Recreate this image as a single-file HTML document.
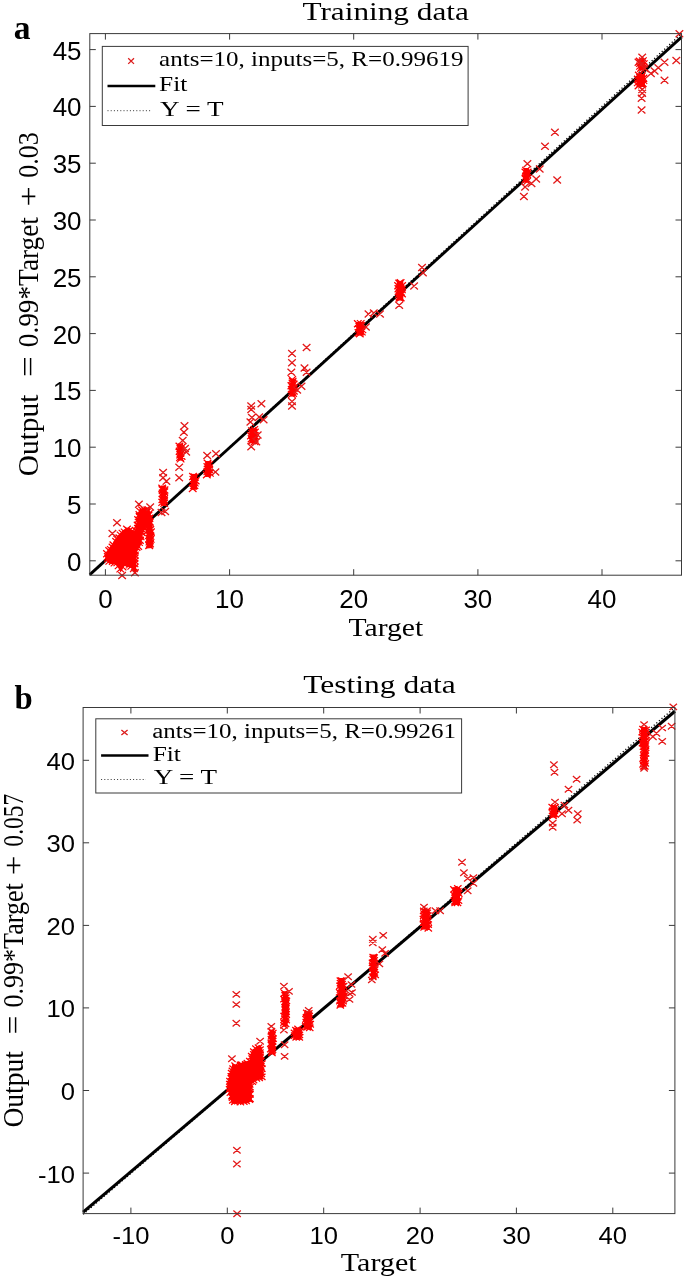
<!DOCTYPE html>
<html><head><meta charset="utf-8"><title>Regression plots</title>
<style>html,body{margin:0;padding:0;background:#fff;}svg{display:block;}</style></head>
<body>
<svg width="685" height="1278" viewBox="0 0 685 1278">
<rect width="685" height="1278" fill="#fff"/>
<line x1="89.8" y1="575.1" x2="681.5" y2="33.7" stroke="#000" stroke-width="1.3" stroke-dasharray="1.2 2.2"/>
<line x1="89.8" y1="574.6" x2="681.5" y2="37.1" stroke="#000" stroke-width="2.9"/>
<polygon points="105.2,556.4 106.0,560.5 109.2,563.7 115.7,564.6 115.9,564.7 116.1,564.7 116.2,564.8 116.4,564.9 116.6,565.0 116.7,565.1 116.9,565.2 117.0,565.4 117.1,565.5 117.2,565.7 120.6,572.6 124.0,566.7 124.1,566.5 124.2,566.4 124.3,566.2 124.5,566.1 124.7,566.0 124.8,565.9 125.0,565.8 125.2,565.8 125.4,565.7 125.6,565.7 125.8,565.7 126.0,565.7 126.2,565.8 126.4,565.8 126.6,565.9 130.6,567.9 130.8,568.0 130.9,568.1 131.1,568.3 131.2,568.4 131.4,568.6 134.7,573.5 135.9,573.2 136.4,556.3 136.4,556.1 137.5,549.7 137.6,549.5 137.6,549.3 137.7,549.1 137.8,548.9 138.0,548.7 138.1,548.6 140.5,546.2 142.5,532.7 142.6,532.5 142.6,532.3 142.7,532.2 142.8,532.0 142.9,531.9 146.1,527.2 147.5,519.9 147.0,509.1 144.7,507.5 139.5,509.0 137.8,514.0 135.3,529.1 135.2,529.3 135.2,529.5 135.1,529.7 135.0,529.9 134.9,530.0 134.8,530.2 134.6,530.3 134.5,530.4 134.3,530.5 134.1,530.6 133.9,530.7 133.7,530.7 133.6,530.8 133.4,530.8 133.2,530.8 133.0,530.8 132.8,530.7 132.6,530.7 132.4,530.6 132.2,530.5 132.1,530.4 131.9,530.3 131.8,530.1 131.7,530.0 129.8,527.4 126.4,527.7 122.9,530.3 117.0,536.3 112.0,544.2 111.9,544.3 106.1,552.1 105.2,556.4" fill="#f00"/>
<polygon points="145.6,507.3 145.6,519.9 146.8,532.8 146.8,533.0 146.6,548.4 152.4,548.1 152.6,536.1 151.6,520.9 149.4,508.7 146.4,507.0 145.6,507.3" fill="#f00"/>
<polygon points="160.8,485.6 160.8,506.1 166.4,506.1 165.6,485.6 160.8,485.6" fill="#f00"/>
<polygon points="177.7,443.5 177.7,460.6 183.0,460.6 183.0,443.5 177.7,443.5" fill="#f00"/>
<polygon points="191.1,473.9 191.1,489.8 197.0,489.8 197.0,473.9 191.1,473.9" fill="#f00"/>
<polygon points="205.1,461.0 205.1,476.9 211.1,476.9 211.1,461.0 205.1,461.0" fill="#f00"/>
<polygon points="249.5,428.4 249.5,443.3 257.2,443.3 257.2,428.4 249.5,428.4" fill="#f00"/>
<polygon points="290.4,378.7 290.4,396.6 295.2,396.6 295.2,378.7 290.4,378.7" fill="#f00"/>
<polygon points="356.5,322.0 356.5,335.6 363.9,335.6 363.9,322.0 356.5,322.0" fill="#f00"/>
<polygon points="396.8,280.9 396.8,300.6 403.3,300.6 403.3,280.9 396.8,280.9" fill="#f00"/>
<polygon points="523.6,168.0 523.6,182.7 529.0,182.7 529.0,168.0 523.6,168.0" fill="#f00"/>
<polygon points="636.5,74.0 636.5,87.0 645.0,87.0 645.0,74.0 636.5,74.0" fill="#f00"/>
<polygon points="638.5,58.5 638.5,70.6 645.4,69.4 644.6,58.5 638.5,58.5" fill="#f00"/>
<path d="M104.0 553.3L111.6 560.3M104.0 560.3L111.6 553.3M104.2 555.4L111.8 562.4M104.2 562.4L111.8 555.4M105.5 557.6L113.1 564.6M105.5 564.6L113.1 557.6M108.9 557.9L116.5 564.9M108.9 564.9L116.5 557.9M110.7 559.4L118.3 566.4M110.7 566.4L118.3 559.4M113.5 559.1L121.1 566.1M113.5 566.1L121.1 559.1M114.8 562.1L122.4 569.1M114.8 569.1L122.4 562.1M116.5 565.4L124.1 572.4M116.5 572.4L124.1 565.4M118.8 563.4L126.4 570.4M118.8 570.4L126.4 563.4M119.7 560.0L127.3 567.0M119.7 567.0L127.3 560.0M122.2 560.3L129.8 567.3M122.2 567.3L129.8 560.3M125.7 561.4L133.3 568.4M125.7 568.4L133.3 561.4M127.5 562.6L135.1 569.6M127.5 569.6L135.1 562.6M130.0 565.1L137.6 572.1M130.0 572.1L137.6 565.1M130.7 564.1L138.3 571.1M130.7 571.1L138.3 564.1M130.7 560.1L138.3 567.1M130.7 567.1L138.3 560.1M131.0 557.5L138.6 564.5M131.0 564.5L138.6 557.5M130.6 554.8L138.2 561.8M130.6 561.8L138.2 554.8M131.0 551.7L138.6 558.7M131.0 558.7L138.6 551.7M130.7 549.0L138.3 556.0M130.7 556.0L138.3 549.0M131.1 547.2L138.7 554.2M131.1 554.2L138.7 547.2M132.7 543.7L140.3 550.7M132.7 550.7L140.3 543.7M134.4 542.8L142.0 549.8M134.4 549.8L142.0 542.8M135.2 538.9L142.8 545.9M135.2 545.9L142.8 538.9M136.1 536.8L143.7 543.8M136.1 543.8L143.7 536.8M136.8 533.1L144.4 540.1M136.8 540.1L144.4 533.1M136.4 531.4L144.0 538.4M136.4 538.4L144.0 531.4M137.5 528.8L145.1 535.8M137.5 535.8L145.1 528.8M137.7 525.4L145.3 532.4M137.7 532.4L145.3 525.4M139.4 522.9L147.0 529.9M139.4 529.9L147.0 522.9M141.6 520.9L149.2 527.9M141.6 527.9L149.2 520.9M142.0 517.8L149.6 524.8M142.0 524.8L149.6 517.8M142.2 515.1L149.8 522.1M142.2 522.1L149.8 515.1M141.1 512.8L148.7 519.8M141.1 519.8L148.7 512.8M142.1 508.9L149.7 515.9M142.1 515.9L149.7 508.9M141.4 506.9L149.0 513.9M141.4 513.9L149.0 506.9M138.3 506.5L145.9 513.5M138.3 513.5L145.9 506.5M136.3 507.9L143.9 514.9M136.3 514.9L143.9 507.9M135.6 511.2L143.2 518.2M135.6 518.2L143.2 511.2M135.8 513.3L143.4 520.3M135.8 520.3L143.4 513.3M134.3 516.3L141.9 523.3M134.3 523.3L141.9 516.3M134.8 518.9L142.4 525.9M134.8 525.9L142.4 518.9M133.8 521.7L141.4 528.7M133.8 528.7L141.4 521.7M134.1 525.0L141.7 532.0M134.1 532.0L141.7 525.0M132.0 527.0L139.6 534.0M132.0 534.0L139.6 527.0M130.3 529.3L137.9 536.3M130.3 536.3L137.9 529.3M127.9 528.2L135.5 535.2M127.9 535.2L135.5 528.2M125.2 527.2L132.8 534.2M125.2 534.2L132.8 527.2M123.2 525.8L130.8 532.8M123.2 532.8L130.8 525.8M120.8 528.6L128.4 535.6M120.8 535.6L128.4 528.6M118.7 529.9L126.3 536.9M118.7 536.9L126.3 529.9M116.8 531.6L124.4 538.6M116.8 538.6L124.4 531.6M115.6 534.5L123.2 541.5M115.6 541.5L123.2 534.5M113.2 535.6L120.8 542.6M113.2 542.6L120.8 535.6M112.3 538.0L119.9 545.0M112.3 545.0L119.9 538.0M109.6 541.5L117.2 548.5M109.6 548.5L117.2 541.5M108.7 543.7L116.3 550.7M108.7 550.7L116.3 543.7M107.0 546.1L114.6 553.1M107.0 553.1L114.6 546.1M105.4 547.2L113.0 554.2M105.4 554.2L113.0 547.2M103.2 550.2L110.8 557.2M103.2 557.2L110.8 550.2M143.6 506.5L151.2 513.5M143.6 513.5L151.2 506.5M143.2 508.6L150.8 515.6M143.2 515.6L150.8 508.6M144.6 512.0L152.2 519.0M144.6 519.0L152.2 512.0M143.2 515.3L150.8 522.3M143.2 522.3L150.8 515.3M144.4 517.4L152.0 524.4M144.4 524.4L152.0 517.4M144.4 520.6L152.0 527.6M144.4 527.6L152.0 520.6M144.5 522.9L152.1 529.9M144.5 529.9L152.1 522.9M144.0 527.3L151.6 534.3M144.0 534.3L151.6 527.3M145.6 529.4L153.2 536.4M145.6 536.4L153.2 529.4M145.1 531.9L152.7 538.9M145.1 538.9L152.7 531.9M145.4 535.0L153.0 542.0M145.4 542.0L153.0 535.0M145.6 538.4L153.2 545.4M145.6 545.4L153.2 538.4M145.4 541.6L153.0 548.6M145.4 548.6L153.0 541.6M145.4 542.0L153.0 549.0M145.4 549.0L153.0 542.0M146.2 540.2L153.8 547.2M146.2 547.2L153.8 540.2M146.1 537.1L153.7 544.1M146.1 544.1L153.7 537.1M146.9 535.6L154.5 542.6M146.9 542.6L154.5 535.6M146.7 532.8L154.3 539.8M146.7 539.8L154.3 532.8M147.2 528.5L154.8 535.5M147.2 535.5L154.8 528.5M146.5 526.2L154.1 533.2M146.5 533.2L154.1 526.2M145.6 524.2L153.2 531.2M145.6 531.2L153.2 524.2M145.6 520.7L153.2 527.7M145.6 527.7L153.2 520.7M146.1 518.5L153.7 525.5M146.1 525.5L153.7 518.5M145.6 514.8L153.2 521.8M145.6 521.8L153.2 514.8M144.7 511.6L152.3 518.6M144.7 518.6L152.3 511.6M145.1 510.1L152.7 517.1M145.1 517.1L152.7 510.1M158.4 484.7L166.0 491.7M158.4 491.7L166.0 484.7M158.6 486.4L166.2 493.4M158.6 493.4L166.2 486.4M159.0 489.6L166.6 496.6M159.0 496.6L166.6 489.6M159.0 493.0L166.6 500.0M159.0 500.0L166.6 493.0M158.6 496.0L166.2 503.0M158.6 503.0L166.2 496.0M158.4 498.9L166.0 505.9M158.4 505.9L166.0 498.9M160.4 499.9L168.0 506.9M160.4 506.9L168.0 499.9M160.3 497.3L167.9 504.3M160.3 504.3L167.9 497.3M160.2 495.6L167.8 502.6M160.2 502.6L167.8 495.6M160.3 492.4L167.9 499.4M160.3 499.4L167.9 492.4M160.5 488.5L168.1 495.5M160.5 495.5L168.1 488.5M160.7 486.5L168.3 493.5M160.7 493.5L168.3 486.5M175.6 442.7L183.2 449.7M175.6 449.7L183.2 442.7M176.6 445.3L184.2 452.3M176.6 452.3L184.2 445.3M175.8 447.8L183.4 454.8M175.8 454.8L183.4 447.8M176.3 451.4L183.9 458.4M176.3 458.4L183.9 451.4M176.2 453.9L183.8 460.9M176.2 460.9L183.8 453.9M176.8 455.4L184.4 462.4M176.8 462.4L184.4 455.4M177.8 452.7L185.4 459.7M177.8 459.7L185.4 452.7M176.6 449.6L184.2 456.6M176.6 456.6L184.2 449.6M177.0 445.8L184.6 452.8M177.0 452.8L184.6 445.8M178.0 443.7L185.6 450.7M178.0 450.7L185.6 443.7M189.2 473.0L196.8 480.0M189.2 480.0L196.8 473.0M189.6 476.0L197.2 483.0M189.6 483.0L197.2 476.0M190.0 478.2L197.6 485.2M190.0 485.2L197.6 478.2M190.0 481.5L197.6 488.5M190.0 488.5L197.6 481.5M188.9 485.0L196.5 492.0M188.9 492.0L196.5 485.0M190.6 482.0L198.2 489.0M190.6 489.0L198.2 482.0M190.9 479.4L198.5 486.4M190.9 486.4L198.5 479.4M191.9 477.2L199.5 484.2M191.9 484.2L199.5 477.2M191.1 473.6L198.7 480.6M191.1 480.6L198.7 473.6M203.8 459.8L211.4 466.8M203.8 466.8L211.4 459.8M203.6 463.3L211.2 470.3M203.6 470.3L211.2 463.3M204.1 466.0L211.7 473.0M204.1 473.0L211.7 466.0M203.6 468.0L211.2 475.0M203.6 475.0L211.2 468.0M203.0 471.3L210.6 478.3M203.0 478.3L210.6 471.3M206.1 469.6L213.7 476.6M206.1 476.6L213.7 469.6M205.4 466.0L213.0 473.0M205.4 473.0L213.0 466.0M205.2 464.3L212.8 471.3M205.2 471.3L212.8 464.3M205.4 461.1L213.0 468.1M205.4 468.1L213.0 461.1M248.2 427.4L255.8 434.4M248.2 434.4L255.8 427.4M248.3 430.1L255.9 437.1M248.3 437.1L255.9 430.1M247.2 432.2L254.8 439.2M247.2 439.2L254.8 432.2M247.8 435.2L255.4 442.2M247.8 442.2L255.4 435.2M248.2 437.2L255.8 444.2M248.2 444.2L255.8 437.2M250.8 438.1L258.4 445.1M250.8 445.1L258.4 438.1M251.0 435.4L258.6 442.4M251.0 442.4L258.6 435.4M251.1 432.5L258.7 439.5M251.1 439.5L258.7 432.5M251.1 428.7L258.7 435.7M251.1 435.7L258.7 428.7M250.5 426.1L258.1 433.1M250.5 433.1L258.1 426.1M288.4 376.1L296.0 383.1M288.4 383.1L296.0 376.1M288.7 379.7L296.3 386.7M288.7 386.7L296.3 379.7M287.6 382.3L295.2 389.3M287.6 389.3L295.2 382.3M287.9 386.1L295.5 393.1M287.9 393.1L295.5 386.1M288.4 388.1L296.0 395.1M288.4 395.1L296.0 388.1M287.9 390.9L295.5 397.9M287.9 397.9L295.5 390.9M289.3 389.7L296.9 396.7M289.3 396.7L296.9 389.7M290.1 387.5L297.7 394.5M290.1 394.5L297.7 387.5M290.0 384.8L297.6 391.8M290.0 391.8L297.6 384.8M289.9 380.7L297.5 387.7M289.9 387.7L297.5 380.7M288.9 377.9L296.5 384.9M288.9 384.9L296.5 377.9M354.0 320.3L361.6 327.3M354.0 327.3L361.6 320.3M355.5 323.2L363.1 330.2M355.5 330.2L363.1 323.2M355.0 325.5L362.6 332.5M355.0 332.5L362.6 325.5M354.7 329.2L362.3 336.2M354.7 336.2L362.3 329.2M356.0 330.2L363.6 337.2M356.0 337.2L363.6 330.2M358.0 328.4L365.6 335.4M358.0 335.4L365.6 328.4M358.6 326.1L366.2 333.1M358.6 333.1L366.2 326.1M357.5 322.2L365.1 329.2M357.5 329.2L365.1 322.2M356.9 320.1L364.5 327.1M356.9 327.1L364.5 320.1M395.4 279.7L403.0 286.7M395.4 286.7L403.0 279.7M394.3 282.2L401.9 289.2M394.3 289.2L401.9 282.2M394.6 285.2L402.2 292.2M394.6 292.2L402.2 285.2M394.8 287.7L402.4 294.7M394.8 294.7L402.4 287.7M395.1 290.7L402.7 297.7M395.1 297.7L402.7 290.7M395.6 293.1L403.2 300.1M395.6 300.1L403.2 293.1M395.7 294.6L403.3 301.6M395.7 301.6L403.3 294.6M396.9 294.3L404.5 301.3M396.9 301.3L404.5 294.3M398.2 290.3L405.8 297.3M398.2 297.3L405.8 290.3M397.3 288.7L404.9 295.7M397.3 295.7L404.9 288.7M398.1 286.1L405.7 293.1M398.1 293.1L405.7 286.1M398.3 282.2L405.9 289.2M398.3 289.2L405.9 282.2M396.8 279.3L404.4 286.3M396.8 286.3L404.4 279.3M522.2 166.9L529.8 173.9M522.2 173.9L529.8 166.9M521.6 168.8L529.2 175.8M521.6 175.8L529.2 168.8M522.3 172.6L529.9 179.6M522.3 179.6L529.9 172.6M521.9 175.9L529.5 182.9M521.9 182.9L529.5 175.9M523.3 177.9L530.9 184.9M523.3 184.9L530.9 177.9M522.4 174.9L530.0 181.9M522.4 181.9L530.0 174.9M523.4 171.0L531.0 178.0M523.4 178.0L531.0 171.0M523.9 168.7L531.5 175.7M523.9 175.7L531.5 168.7M635.0 71.8L642.6 78.8M635.0 78.8L642.6 71.8M634.1 75.8L641.7 82.8M634.1 82.8L641.7 75.8M634.0 79.1L641.6 86.1M634.0 86.1L641.6 79.1M634.7 82.2L642.3 89.2M634.7 89.2L642.3 82.2M638.3 81.4L645.9 88.4M638.3 88.4L645.9 81.4M638.9 79.9L646.5 86.9M638.9 86.9L646.5 79.9M639.6 76.9L647.2 83.9M639.6 83.9L647.2 76.9M639.6 74.8L647.2 81.8M639.6 81.8L647.2 74.8M638.1 72.5L645.7 79.5M638.1 79.5L645.7 72.5M635.9 57.7L643.5 64.7M635.9 64.7L643.5 57.7M636.2 59.9L643.8 66.9M636.2 66.9L643.8 59.9M636.2 62.6L643.8 69.6M636.2 69.6L643.8 62.6M637.2 64.8L644.8 71.8M637.2 71.8L644.8 64.8M639.8 63.8L647.4 70.8M639.8 70.8L647.4 63.8M640.0 60.4L647.6 67.4M640.0 67.4L647.6 60.4M639.1 57.4L646.7 64.4M639.1 64.4L646.7 57.4" stroke="#f00" stroke-width="1.25" fill="none"/>
<path d="M113.2 519.2L120.8 526.2M113.2 526.2L120.8 519.2M108.6 529.9L116.2 536.9M108.6 536.9L116.2 529.9M135.1 500.8L142.7 507.8M135.1 507.8L142.7 500.8M146.4 503.5L154.0 510.5M146.4 510.5L154.0 503.5M118.3 572.1L125.9 579.1M118.3 579.1L125.9 572.1M131.1 569.3L138.7 576.3M131.1 576.3L138.7 569.3M159.3 469.0L166.9 476.0M159.3 476.0L166.9 469.0M159.3 474.2L166.9 481.2M159.3 481.2L166.9 474.2M162.6 477.7L170.2 484.7M162.6 484.7L170.2 477.7M161.4 508.1L169.0 515.1M161.4 515.1L169.0 508.1M157.7 509.0L165.3 516.0M157.7 516.0L165.3 509.0M180.7 422.3L188.3 429.3M180.7 429.3L188.3 422.3M180.1 428.7L187.7 435.7M180.1 435.7L187.7 428.7M178.9 436.9L186.5 443.9M178.9 443.9L186.5 436.9M181.2 445.0L188.8 452.0M181.2 452.0L188.8 445.0M182.4 448.5L190.0 455.5M182.4 455.5L190.0 448.5M175.4 463.7L183.0 470.7M175.4 470.7L183.0 463.7M175.4 474.2L183.0 481.2M175.4 481.2L183.0 474.2M203.4 452.0L211.0 459.0M203.4 459.0L211.0 452.0M212.2 450.3L219.8 457.3M212.2 457.3L219.8 450.3M211.6 468.4L219.2 475.4M211.6 475.4L219.2 468.4M247.4 402.4L255.0 409.4M247.4 409.4L255.0 402.4M257.6 400.2L265.2 407.2M257.6 407.2L265.2 400.2M247.4 406.1L255.0 413.1M247.4 413.1L255.0 406.1M248.1 414.1L255.7 421.1M248.1 421.1L255.7 414.1M255.4 413.4L263.0 420.4M255.4 420.4L263.0 413.4M259.8 416.3L267.4 423.3M259.8 423.3L267.4 416.3M246.6 418.5L254.2 425.5M246.6 425.5L254.2 418.5M247.4 443.3L255.0 450.3M247.4 450.3L255.0 443.3M253.9 431.6L261.5 438.6M253.9 438.6L261.5 431.6M252.5 438.2L260.1 445.2M252.5 445.2L260.1 438.2M288.2 349.9L295.8 356.9M288.2 356.9L295.8 349.9M302.8 344.0L310.4 351.0M302.8 351.0L310.4 344.0M288.2 359.3L295.8 366.3M288.2 366.3L295.8 359.3M287.5 368.8L295.1 375.8M287.5 375.8L295.1 368.8M300.7 364.5L308.3 371.5M300.7 371.5L308.3 364.5M302.8 368.8L310.4 375.8M302.8 375.8L310.4 368.8M297.7 382.7L305.3 389.7M297.7 389.7L305.3 382.7M288.2 398.0L295.8 405.0M288.2 405.0L295.8 398.0M288.2 402.4L295.8 409.4M288.2 409.4L295.8 402.4M293.4 386.4L301.0 393.4M293.4 393.4L301.0 386.4M362.1 323.5L369.7 330.5M362.1 330.5L369.7 323.5M364.7 310.5L372.3 317.5M364.7 317.5L372.3 310.5M370.0 309.5L377.6 316.5M370.0 316.5L377.6 309.5M376.2 310.5L383.8 317.5M376.2 317.5L383.8 310.5M395.4 301.7L403.0 308.7M395.4 308.7L403.0 301.7M410.3 282.4L417.9 289.4M410.3 289.4L417.9 282.4M418.2 264.0L425.8 271.0M418.2 271.0L425.8 264.0M419.1 269.3L426.7 276.3M419.1 276.3L426.7 269.3M551.1 128.7L558.7 135.7M551.1 135.7L558.7 128.7M541.2 142.7L548.8 149.7M541.2 149.7L548.8 142.7M523.6 160.2L531.2 167.2M523.6 167.2L531.2 160.2M535.9 165.5L543.5 172.5M535.9 172.5L543.5 165.5M532.4 175.4L540.0 182.4M532.4 182.4L540.0 175.4M553.4 176.6L561.0 183.6M553.4 183.6L561.0 176.6M521.3 183.6L528.9 190.6M521.3 190.6L528.9 183.6M520.1 192.9L527.7 199.9M520.1 199.9L527.7 192.9M527.7 180.1L535.3 187.1M527.7 187.1L535.3 180.1M638.4 53.8L646.0 60.8M638.4 60.8L646.0 53.8M634.7 58.8L642.3 65.8M634.7 65.8L642.3 58.8M638.4 60.0L646.0 67.0M638.4 67.0L646.0 60.0M640.9 65.0L648.5 72.0M640.9 72.0L648.5 65.0M660.7 58.8L668.3 65.8M660.7 65.8L668.3 58.8M672.5 56.9L680.1 63.9M672.5 63.9L680.1 56.9M654.5 64.3L662.1 71.3M654.5 71.3L662.1 64.3M650.8 67.4L658.4 74.4M650.8 74.4L658.4 67.4M647.1 69.9L654.7 76.9M647.1 76.9L654.7 69.9M660.7 76.8L668.3 83.8M660.7 83.8L668.3 76.8M638.4 89.8L646.0 96.8M638.4 96.8L646.0 89.8M637.8 94.7L645.4 101.7M637.8 101.7L645.4 94.7M637.8 106.5L645.4 113.5M637.8 113.5L645.4 106.5M675.6 30.2L683.2 37.2M675.6 37.2L683.2 30.2M638.4 86.1L646.0 93.1M638.4 93.1L646.0 86.1" stroke="#e41a1a" stroke-width="1.3" fill="none"/>
<rect x="89.8" y="33.6" width="591.7" height="541.6" fill="none" stroke="#3a3a3a" stroke-width="1.0"/>
<path d="M105.4 575.2V569.2M105.4 33.6V39.6M229.6 575.2V569.2M229.6 33.6V39.6M353.7 575.2V569.2M353.7 33.6V39.6M477.9 575.2V569.2M477.9 33.6V39.6M602.0 575.2V569.2M602.0 33.6V39.6M89.8 560.8H95.8M681.5 560.8H675.5M89.8 504.0H95.8M681.5 504.0H675.5M89.8 447.2H95.8M681.5 447.2H675.5M89.8 390.4H95.8M681.5 390.4H675.5M89.8 333.6H95.8M681.5 333.6H675.5M89.8 276.8H95.8M681.5 276.8H675.5M89.8 220.0H95.8M681.5 220.0H675.5M89.8 163.2H95.8M681.5 163.2H675.5M89.8 106.4H95.8M681.5 106.4H675.5M89.8 49.6H95.8M681.5 49.6H675.5" stroke="#3a3a3a" stroke-width="1.0" fill="none"/>
<line x1="83.1" y1="1214.3" x2="674.9" y2="707.4" stroke="#000" stroke-width="1.3" stroke-dasharray="1.2 2.2"/>
<line x1="83.1" y1="1212.1" x2="674.9" y2="711.2" stroke="#000" stroke-width="3.1"/>
<polygon points="227.1,1087.6 229.4,1094.6 229.4,1094.7 231.6,1103.8 247.2,1103.2 251.8,1101.3 251.8,1085.2 251.8,1085.0 251.8,1084.8 251.9,1084.6 252.0,1084.4 252.0,1084.2 252.1,1084.1 252.3,1083.9 252.4,1083.8 256.2,1080.1 256.3,1079.9 256.5,1079.8 256.7,1079.7 256.8,1079.6 257.0,1079.6 257.2,1079.5 257.4,1079.5 257.6,1079.5 263.1,1079.5 263.1,1060.3 261.9,1047.3 259.7,1045.0 256.2,1046.8 251.9,1050.1 249.5,1059.4 249.5,1059.6 249.4,1059.8 249.3,1059.9 249.2,1060.1 249.1,1060.2 249.0,1060.4 248.8,1060.5 248.6,1060.6 248.5,1060.7 248.3,1060.8 248.1,1060.8 243.2,1062.1 237.0,1064.6 236.8,1064.6 236.6,1064.7 236.4,1064.7 236.2,1064.7 236.0,1064.7 235.8,1064.6 232.3,1063.8 231.4,1069.2 231.3,1069.5 229.4,1075.7 227.1,1087.6" fill="#f00"/>
<polygon points="269.6,1029.6 269.6,1054.4 274.4,1054.4 274.4,1029.6 269.6,1029.6" fill="#f00"/>
<polygon points="283.0,991.2 283.0,1026.6 287.7,1026.6 287.7,991.2 283.0,991.2" fill="#f00"/>
<polygon points="293.2,1027.7 293.2,1039.8 301.6,1039.8 301.6,1027.7 293.2,1027.7" fill="#f00"/>
<polygon points="304.1,1011.6 304.1,1029.5 311.8,1029.5 311.8,1011.6 304.1,1011.6" fill="#f00"/>
<polygon points="338.4,978.1 338.4,1007.6 343.9,1007.6 345.5,999.8 344.6,978.1 338.4,978.1" fill="#f00"/>
<polygon points="371.0,954.5 371.0,979.0 376.5,979.0 376.5,954.5 371.0,954.5" fill="#f00"/>
<polygon points="422.2,909.0 422.2,929.6 429.6,929.6 429.6,909.0 422.2,909.0" fill="#f00"/>
<polygon points="452.6,887.1 452.6,905.0 460.0,905.0 460.0,887.1 452.6,887.1" fill="#f00"/>
<polygon points="550.6,805.2 550.6,817.6 557.1,817.6 557.1,805.2 550.6,805.2" fill="#f00"/>
<polygon points="640.9,727.0 640.9,746.0 647.4,746.0 647.4,727.0 640.9,727.0" fill="#f00"/>
<polygon points="642.4,742.0 642.4,768.6 646.4,768.6 646.4,742.0 642.4,742.0" fill="#f00"/>
<path d="M226.1 1083.7L233.5 1090.0M226.1 1090.0L233.5 1083.7M225.9 1086.3L233.3 1092.6M225.9 1092.6L233.3 1086.3M226.7 1089.5L234.1 1095.8M226.7 1095.8L234.1 1089.5M228.3 1093.0L235.7 1099.3M228.3 1099.3L235.7 1093.0M228.8 1094.5L236.2 1100.8M228.8 1100.8L236.2 1094.5M229.1 1097.2L236.5 1103.5M229.1 1103.5L236.5 1097.2M231.1 1098.7L238.5 1105.0M231.1 1105.0L238.5 1098.7M234.2 1097.9L241.6 1104.2M234.2 1104.2L241.6 1097.9M236.7 1099.0L244.1 1105.3M236.7 1105.3L244.1 1099.0M240.1 1098.4L247.5 1104.7M240.1 1104.7L247.5 1098.4M242.4 1097.8L249.8 1104.1M242.4 1104.1L249.8 1097.8M245.7 1096.4L253.1 1102.7M245.7 1102.7L253.1 1096.4M246.3 1095.6L253.7 1101.9M246.3 1101.9L253.7 1095.6M246.3 1091.3L253.7 1097.6M246.3 1097.6L253.7 1091.3M245.4 1089.7L252.8 1096.0M245.4 1096.0L252.8 1089.7M245.6 1086.3L253.0 1092.6M245.6 1092.6L253.0 1086.3M246.3 1083.9L253.7 1090.2M246.3 1090.2L253.7 1083.9M246.0 1081.1L253.4 1087.4M246.0 1087.4L253.4 1081.1M248.6 1078.5L256.0 1084.8M248.6 1084.8L256.0 1078.5M249.8 1076.9L257.2 1083.2M249.8 1083.2L257.2 1076.9M252.7 1075.1L260.1 1081.4M252.7 1081.4L260.1 1075.1M255.5 1074.8L262.9 1081.1M255.5 1081.1L262.9 1074.8M258.1 1073.7L265.5 1080.0M258.1 1080.0L265.5 1073.7M257.7 1070.8L265.1 1077.1M257.7 1077.1L265.1 1070.8M256.8 1068.2L264.2 1074.5M256.8 1074.5L264.2 1068.2M258.1 1065.4L265.5 1071.7M258.1 1071.7L265.5 1065.4M257.1 1063.6L264.5 1069.9M257.1 1069.9L264.5 1063.6M258.2 1060.5L265.6 1066.8M258.2 1066.8L265.6 1060.5M257.2 1057.8L264.6 1064.1M257.2 1064.1L264.6 1057.8M256.4 1053.7L263.8 1060.0M256.4 1060.0L263.8 1053.7M256.2 1051.4L263.6 1057.7M256.2 1057.7L263.6 1051.4M256.2 1049.4L263.6 1055.7M256.2 1055.7L263.6 1049.4M256.3 1046.6L263.7 1052.9M256.3 1052.9L263.7 1046.6M254.8 1044.5L262.2 1050.8M254.8 1050.8L262.2 1044.5M252.2 1045.5L259.6 1051.8M252.2 1051.8L259.6 1045.5M250.1 1048.6L257.5 1054.9M250.1 1054.9L257.5 1048.6M250.1 1051.2L257.5 1057.5M250.1 1057.5L257.5 1051.2M248.0 1053.1L255.4 1059.4M248.0 1059.4L255.4 1053.1M248.5 1055.4L255.9 1061.7M248.5 1061.7L255.9 1055.4M246.1 1058.0L253.5 1064.3M246.1 1064.3L253.5 1058.0M243.7 1060.1L251.1 1066.4M243.7 1066.4L251.1 1060.1M242.0 1061.3L249.4 1067.6M242.0 1067.6L249.4 1061.3M238.3 1061.6L245.7 1067.9M238.3 1067.9L245.7 1061.6M236.8 1061.8L244.2 1068.1M236.8 1068.1L244.2 1061.8M233.1 1064.2L240.5 1070.5M233.1 1070.5L240.5 1064.2M231.4 1062.6L238.8 1068.9M231.4 1068.9L238.8 1062.6M229.4 1065.4L236.8 1071.7M229.4 1071.7L236.8 1065.4M228.7 1067.8L236.1 1074.1M228.7 1074.1L236.1 1067.8M227.9 1069.9L235.3 1076.2M227.9 1076.2L235.3 1069.9M227.6 1073.3L235.0 1079.6M227.6 1079.6L235.0 1073.3M227.6 1075.2L235.0 1081.5M227.6 1081.5L235.0 1075.2M226.3 1078.1L233.7 1084.4M226.3 1084.4L233.7 1078.1M226.1 1081.0L233.5 1087.3M226.1 1087.3L233.5 1081.0M267.7 1028.1L275.1 1034.4M267.7 1034.4L275.1 1028.1M268.1 1031.7L275.5 1038.0M268.1 1038.0L275.5 1031.7M267.8 1033.2L275.2 1039.5M267.8 1039.5L275.2 1033.2M267.7 1036.1L275.1 1042.4M267.7 1042.4L275.1 1036.1M267.7 1040.0L275.1 1046.3M267.7 1046.3L275.1 1040.0M267.9 1042.3L275.3 1048.6M267.9 1048.6L275.3 1042.3M267.1 1045.9L274.5 1052.2M267.1 1052.2L274.5 1045.9M268.2 1048.0L275.6 1054.3M268.2 1054.3L275.6 1048.0M268.2 1049.8L275.6 1056.1M268.2 1056.1L275.6 1049.8M268.8 1046.5L276.2 1052.8M268.8 1052.8L276.2 1046.5M268.8 1043.5L276.2 1049.8M268.8 1049.8L276.2 1043.5M268.4 1041.3L275.8 1047.6M268.4 1047.6L275.8 1041.3M269.0 1038.1L276.4 1044.4M269.0 1044.4L276.4 1038.1M269.4 1035.4L276.8 1041.7M269.4 1041.7L276.8 1035.4M268.4 1032.2L275.8 1038.5M268.4 1038.5L275.8 1032.2M269.1 1030.0L276.5 1036.3M269.1 1036.3L276.5 1030.0M281.0 989.9L288.4 996.2M281.0 996.2L288.4 989.9M281.4 992.2L288.8 998.5M281.4 998.5L288.8 992.2M280.3 996.0L287.7 1002.3M280.3 1002.3L287.7 996.0M281.3 998.8L288.7 1005.1M281.3 1005.1L288.7 998.8M281.5 1000.9L288.9 1007.2M281.5 1007.2L288.9 1000.9M281.6 1004.5L289.0 1010.8M281.6 1010.8L289.0 1004.5M281.7 1007.2L289.1 1013.5M281.7 1013.5L289.1 1007.2M281.6 1009.3L289.0 1015.6M281.6 1015.6L289.0 1009.3M280.4 1013.0L287.8 1019.3M280.4 1019.3L287.8 1013.0M281.2 1015.7L288.6 1022.0M281.2 1022.0L288.6 1015.7M280.3 1019.4L287.7 1025.7M280.3 1025.7L287.7 1019.4M280.3 1022.3L287.7 1028.6M280.3 1028.6L287.7 1022.3M281.9 1020.6L289.3 1026.9M281.9 1026.9L289.3 1020.6M282.5 1017.0L289.9 1023.3M282.5 1023.3L289.9 1017.0M282.0 1014.1L289.4 1020.4M282.0 1020.4L289.4 1014.1M282.4 1011.3L289.8 1017.6M282.4 1017.6L289.8 1011.3M282.4 1008.4L289.8 1014.7M282.4 1014.7L289.8 1008.4M281.7 1006.1L289.1 1012.4M281.7 1012.4L289.1 1006.1M281.9 1003.6L289.3 1009.9M281.9 1009.9L289.3 1003.6M282.2 999.6L289.6 1005.9M282.2 1005.9L289.6 999.6M282.7 997.7L290.1 1004.0M282.7 1004.0L290.1 997.7M282.1 994.6L289.5 1000.9M282.1 1000.9L289.5 994.6M282.1 992.1L289.5 998.4M282.1 998.4L289.5 992.1M292.2 1027.0L299.6 1033.3M292.2 1033.3L299.6 1027.0M290.8 1029.8L298.2 1036.1M290.8 1036.1L298.2 1029.8M291.0 1032.4L298.4 1038.7M291.0 1038.7L298.4 1032.4M292.5 1034.2L299.9 1040.5M292.5 1040.5L299.9 1034.2M295.6 1034.2L303.0 1040.5M295.6 1040.5L303.0 1034.2M295.7 1031.7L303.1 1038.0M295.7 1038.0L303.1 1031.7M296.0 1028.8L303.4 1035.1M296.0 1035.1L303.4 1028.8M294.3 1025.8L301.7 1032.1M294.3 1032.1L301.7 1025.8M303.1 1009.7L310.5 1016.0M303.1 1016.0L310.5 1009.7M302.8 1014.0L310.2 1020.3M302.8 1020.3L310.2 1014.0M302.3 1016.1L309.7 1022.4M302.3 1022.4L309.7 1016.1M302.6 1018.9L310.0 1025.2M302.6 1025.2L310.0 1018.9M302.0 1022.8L309.4 1029.1M302.0 1029.1L309.4 1022.8M303.4 1024.3L310.8 1030.6M303.4 1030.6L310.8 1024.3M306.0 1024.8L313.4 1031.1M306.0 1031.1L313.4 1024.8M306.5 1021.1L313.9 1027.4M306.5 1027.4L313.9 1021.1M305.8 1018.3L313.2 1024.6M305.8 1024.6L313.2 1018.3M305.4 1015.4L312.8 1021.7M305.4 1021.7L312.8 1015.4M305.5 1012.9L312.9 1019.2M305.5 1019.2L312.9 1012.9M305.1 1010.2L312.5 1016.5M305.1 1016.5L312.5 1010.2M336.7 977.4L344.1 983.7M336.7 983.7L344.1 977.4M336.8 980.0L344.2 986.3M336.8 986.3L344.2 980.0M336.3 982.8L343.7 989.1M336.3 989.1L343.7 982.8M337.1 985.4L344.5 991.7M337.1 991.7L344.5 985.4M335.9 989.3L343.3 995.6M335.9 995.6L343.3 989.3M336.7 992.2L344.1 998.5M336.7 998.5L344.1 992.2M336.9 994.1L344.3 1000.4M336.9 1000.4L344.3 994.1M336.2 998.0L343.6 1004.3M336.2 1004.3L343.6 998.0M337.1 1000.3L344.5 1006.6M337.1 1006.6L344.5 1000.3M336.6 1002.1L344.0 1008.4M336.6 1008.4L344.0 1002.1M338.8 1000.1L346.2 1006.4M338.8 1006.4L346.2 1000.1M339.4 997.9L346.8 1004.2M339.4 1004.2L346.8 997.9M339.2 995.1L346.6 1001.4M339.2 1001.4L346.6 995.1M340.3 992.7L347.7 999.0M340.3 999.0L347.7 992.7M340.0 988.9L347.4 995.2M340.0 995.2L347.4 988.9M338.9 986.3L346.3 992.6M338.9 992.6L346.3 986.3M339.9 982.9L347.3 989.2M339.9 989.2L347.3 982.9M338.4 981.1L345.8 987.4M338.4 987.4L345.8 981.1M338.2 977.6L345.6 983.9M338.2 983.9L345.6 977.6M369.5 954.1L376.9 960.4M369.5 960.4L376.9 954.1M369.5 955.9L376.9 962.2M369.5 962.2L376.9 955.9M368.8 959.7L376.2 966.0M368.8 966.0L376.2 959.7M368.9 962.8L376.3 969.1M368.9 969.1L376.3 962.8M369.2 964.4L376.6 970.7M369.2 970.7L376.6 964.4M369.7 968.4L377.1 974.7M369.7 974.7L377.1 968.4M369.6 970.2L377.0 976.5M369.6 976.5L377.0 970.2M369.1 973.8L376.5 980.1M369.1 980.1L376.5 973.8M371.5 971.7L378.9 978.0M371.5 978.0L378.9 971.7M370.7 969.2L378.1 975.5M370.7 975.5L378.1 969.2M371.0 966.4L378.4 972.7M371.0 972.7L378.4 966.4M370.5 963.6L377.9 969.9M370.5 969.9L377.9 963.6M370.9 959.9L378.3 966.2M370.9 966.2L378.3 959.9M370.5 957.3L377.9 963.6M370.5 963.6L377.9 957.3M370.4 954.6L377.8 960.9M370.4 960.9L377.8 954.6M420.1 907.8L427.5 914.1M420.1 914.1L427.5 907.8M420.4 910.4L427.8 916.7M420.4 916.7L427.8 910.4M420.0 912.8L427.4 919.1M420.0 919.1L427.4 912.8M419.7 915.9L427.1 922.2M419.7 922.2L427.1 915.9M420.0 919.8L427.4 926.1M420.0 926.1L427.4 919.8M420.8 922.2L428.2 928.5M420.8 928.5L428.2 922.2M420.4 924.2L427.8 930.5M420.4 930.5L427.8 924.2M424.6 925.1L432.0 931.4M424.6 931.4L432.0 925.1M424.5 921.4L431.9 927.7M424.5 927.7L431.9 921.4M424.1 918.3L431.5 924.6M424.1 924.6L431.5 918.3M424.1 915.9L431.5 922.2M424.1 922.2L431.5 915.9M424.0 912.3L431.4 918.6M424.0 918.6L431.4 912.3M423.5 909.8L430.9 916.1M423.5 916.1L430.9 909.8M423.4 907.5L430.8 913.8M423.4 913.8L430.8 907.5M450.2 886.3L457.6 892.6M450.2 892.6L457.6 886.3M451.5 888.1L458.9 894.4M451.5 894.4L458.9 888.1M450.6 892.1L458.0 898.4M450.6 898.4L458.0 892.1M451.3 894.7L458.7 901.0M451.3 901.0L458.7 894.7M451.2 898.1L458.6 904.4M451.2 904.4L458.6 898.1M451.5 899.7L458.9 906.0M451.5 906.0L458.9 899.7M453.8 899.6L461.2 905.9M453.8 905.9L461.2 899.6M454.8 897.5L462.2 903.8M454.8 903.8L462.2 897.5M454.1 893.7L461.5 900.0M454.1 900.0L461.5 893.7M455.1 890.5L462.5 896.8M455.1 896.8L462.5 890.5M454.1 888.2L461.5 894.5M454.1 894.5L461.5 888.2M454.1 885.2L461.5 891.5M454.1 891.5L461.5 885.2M548.5 804.0L555.9 810.3M548.5 810.3L555.9 804.0M548.9 807.8L556.3 814.1M548.9 814.1L556.3 807.8M549.3 810.4L556.7 816.7M549.3 816.7L556.7 810.4M549.3 812.7L556.7 819.0M549.3 819.0L556.7 812.7M551.4 811.2L558.8 817.5M551.4 817.5L558.8 811.2M550.6 807.6L558.0 813.9M550.6 813.9L558.0 807.6M551.1 804.5L558.5 810.8M551.1 810.8L558.5 804.5M639.3 726.0L646.7 732.3M639.3 732.3L646.7 726.0M638.5 729.0L645.9 735.3M638.5 735.3L645.9 729.0M639.4 732.3L646.8 738.6M639.4 738.6L646.8 732.3M639.6 734.6L647.0 740.9M639.6 740.9L647.0 734.6M639.4 737.2L646.8 743.5M639.4 743.5L646.8 737.2M638.8 739.9L646.2 746.2M638.8 746.2L646.2 739.9M641.9 740.5L649.3 746.8M641.9 746.8L649.3 740.5M641.3 738.3L648.7 744.6M641.3 744.6L648.7 738.3M642.3 734.4L649.7 740.7M642.3 740.7L649.7 734.4M642.5 731.9L649.9 738.2M642.5 738.2L649.9 731.9M641.6 729.5L649.0 735.8M641.6 735.8L649.0 729.5M642.4 726.8L649.8 733.1M642.4 733.1L649.8 726.8M640.0 740.9L647.4 747.2M640.0 747.2L647.4 740.9M639.8 743.4L647.2 749.7M639.8 749.7L647.2 743.4M640.9 745.5L648.3 751.8M640.9 751.8L648.3 745.5M640.8 748.8L648.2 755.1M640.8 755.1L648.2 748.8M640.1 751.7L647.5 758.0M640.1 758.0L647.5 751.7M639.8 754.9L647.2 761.2M639.8 761.2L647.2 754.9M640.3 758.0L647.7 764.3M640.3 764.3L647.7 758.0M639.4 761.2L646.8 767.5M639.4 767.5L646.8 761.2M640.0 763.1L647.4 769.4M640.0 769.4L647.4 763.1M641.1 763.3L648.5 769.6M641.1 769.6L648.5 763.3M641.6 760.3L649.0 766.6M641.6 766.6L649.0 760.3M641.0 756.1L648.4 762.4M641.0 762.4L648.4 756.1M640.6 753.3L648.0 759.6M640.6 759.6L648.0 753.3M641.9 750.1L649.3 756.4M641.9 756.4L649.3 750.1M641.6 747.1L649.0 753.4M641.6 753.4L649.0 747.1M640.5 745.6L647.9 751.9M640.5 751.9L647.9 745.6M641.7 742.6L649.1 748.9M641.7 748.9L649.1 742.6" stroke="#f00" stroke-width="1.25" fill="none"/>
<path d="M232.6 991.2L240.0 997.5M232.6 997.5L240.0 991.2M232.6 1001.4L240.0 1007.6M232.6 1007.6L240.0 1001.4M232.6 1020.1L240.0 1026.4M232.6 1026.4L240.0 1020.1M233.2 1147.0L240.6 1153.4M233.2 1153.4L240.6 1147.0M233.2 1160.8L240.6 1167.2M233.2 1167.2L240.6 1160.8M233.4 1210.5L240.8 1216.9M233.4 1216.9L240.8 1210.5M228.2 1055.6L235.6 1062.0M228.2 1062.0L235.6 1055.6M256.4 1038.1L263.8 1044.5M256.4 1044.5L263.8 1038.1M267.6 1023.3L275.0 1029.6M267.6 1029.6L275.0 1023.3M280.2 983.1L287.6 989.4M280.2 989.4L287.6 983.1M285.3 988.2L292.7 994.5M285.3 994.5L292.7 988.2M280.2 1026.8L287.6 1033.2M280.2 1033.2L287.6 1026.8M280.9 1041.5L288.3 1047.9M280.9 1047.9L288.3 1041.5M280.9 1053.2L288.3 1059.6M280.9 1059.6L288.3 1053.2M305.0 1007.2L312.4 1013.5M305.0 1013.5L312.4 1007.2M344.4 973.6L351.8 979.9M344.4 979.9L351.8 973.6M345.9 990.5L353.3 996.8M345.9 996.8L353.3 990.5M369.1 936.1L376.5 942.4M369.1 942.4L376.5 936.1M369.1 939.9L376.5 946.1M369.1 946.1L376.5 939.9M379.5 932.2L386.9 938.5M379.5 938.5L386.9 932.2M378.6 946.5L386.0 952.8M378.6 952.8L386.0 946.5M381.4 950.2L388.8 956.5M381.4 956.5L388.8 950.2M375.7 960.8L383.1 967.0M375.7 967.0L383.1 960.8M368.1 976.9L375.5 983.1M368.1 983.1L375.5 976.9M420.3 903.9L427.7 910.1M420.3 910.1L427.7 903.9M431.7 907.6L439.1 913.9M431.7 913.9L439.1 907.6M436.4 907.6L443.8 913.9M436.4 913.9L443.8 907.6M458.3 859.1L465.7 865.4M458.3 865.4L465.7 859.1M460.2 869.6L467.6 875.9M460.2 875.9L467.6 869.6M464.0 875.4L471.4 881.6M464.0 881.6L471.4 875.4M469.7 874.4L477.1 880.6M469.7 880.6L477.1 874.4M469.7 880.1L477.1 886.4M469.7 886.4L477.1 880.1M464.0 887.6L471.4 893.9M464.0 893.9L471.4 887.6M550.2 761.6L557.6 767.9M550.2 767.9L557.6 761.6M550.8 769.1L558.2 775.4M550.8 775.4L558.2 769.1M572.9 776.1L580.3 782.4M572.9 782.4L580.3 776.1M564.8 786.1L572.2 792.4M564.8 792.4L572.2 786.1M551.3 798.9L558.7 805.1M551.3 805.1L558.7 798.9M560.7 801.9L568.1 808.1M560.7 808.1L568.1 801.9M564.8 807.1L572.2 813.4M564.8 813.4L572.2 807.1M558.3 810.6L565.7 816.9M558.3 816.9L565.7 810.6M574.1 810.6L581.5 816.9M574.1 816.9L581.5 810.6M573.5 817.0L580.9 823.2M573.5 823.2L580.9 817.0M549.0 820.0L556.4 826.2M549.0 826.2L556.4 820.0M549.0 824.1L556.4 830.4M549.0 830.4L556.4 824.1M640.4 721.4L647.8 727.6M640.4 727.6L647.8 721.4M347.8 981.4L355.2 987.6M347.8 987.6L355.2 981.4M348.3 989.4L355.7 995.6M348.3 995.6L355.7 989.4M345.8 996.4L353.2 1002.6M345.8 1002.6L353.2 996.4M658.5 724.9L665.9 731.1M658.5 731.1L665.9 724.9M652.7 730.1L660.1 736.4M652.7 736.4L660.1 730.1M649.2 733.6L656.6 739.9M649.2 739.9L656.6 733.6M658.5 738.2L665.9 744.5M658.5 744.5L665.9 738.2M667.9 723.1L675.3 729.4M667.9 729.4L675.3 723.1M669.6 703.8L677.0 710.0M669.6 710.0L677.0 703.8M640.4 765.1L647.8 771.4M640.4 771.4L647.8 765.1" stroke="#e41a1a" stroke-width="1.3" fill="none"/>
<rect x="83.1" y="707.5" width="591.8" height="506.1" fill="none" stroke="#3a3a3a" stroke-width="1.0"/>
<path d="M130.9 1213.6V1207.6M130.9 707.5V713.5M227.3 1213.6V1207.6M227.3 707.5V713.5M323.7 1213.6V1207.6M323.7 707.5V713.5M420.1 1213.6V1207.6M420.1 707.5V713.5M516.4 1213.6V1207.6M516.4 707.5V713.5M612.8 1213.6V1207.6M612.8 707.5V713.5M83.1 1173.1H89.1M674.9 1173.1H668.9M83.1 1090.5H89.1M674.9 1090.5H668.9M83.1 1007.9H89.1M674.9 1007.9H668.9M83.1 925.4H89.1M674.9 925.4H668.9M83.1 842.8H89.1M674.9 842.8H668.9M83.1 760.3H89.1M674.9 760.3H668.9" stroke="#3a3a3a" stroke-width="1.0" fill="none"/>
<g font-family="'Liberation Sans', Arial, Helvetica, sans-serif" font-size="25.2" fill="#000">
<text transform="translate(105.40 607.70) scale(1.03 1)" text-anchor="middle">0</text>
<text transform="translate(229.55 607.70) scale(1.03 1)" text-anchor="middle">10</text>
<text transform="translate(353.70 607.70) scale(1.03 1)" text-anchor="middle">20</text>
<text transform="translate(477.85 607.70) scale(1.03 1)" text-anchor="middle">30</text>
<text transform="translate(602.00 607.70) scale(1.03 1)" text-anchor="middle">40</text>
<text transform="translate(81.50 570.75) scale(1.03 1)" text-anchor="end">0</text>
<text transform="translate(81.50 513.95) scale(1.03 1)" text-anchor="end">5</text>
<text transform="translate(81.50 457.15) scale(1.03 1)" text-anchor="end">10</text>
<text transform="translate(81.50 400.35) scale(1.03 1)" text-anchor="end">15</text>
<text transform="translate(81.50 343.55) scale(1.03 1)" text-anchor="end">20</text>
<text transform="translate(81.50 286.75) scale(1.03 1)" text-anchor="end">25</text>
<text transform="translate(81.50 229.95) scale(1.03 1)" text-anchor="end">30</text>
<text transform="translate(81.50 173.15) scale(1.03 1)" text-anchor="end">35</text>
<text transform="translate(81.50 116.35) scale(1.03 1)" text-anchor="end">40</text>
<text transform="translate(81.50 59.55) scale(1.03 1)" text-anchor="end">45</text>
</g>
<g font-family="'Liberation Sans', Arial, Helvetica, sans-serif" font-size="23.6" fill="#000">
<text transform="translate(130.92 1244.10) scale(1.085 1)" text-anchor="middle">-10</text>
<text transform="translate(227.30 1244.10) scale(1.085 1)" text-anchor="middle">0</text>
<text transform="translate(323.68 1244.10) scale(1.085 1)" text-anchor="middle">10</text>
<text transform="translate(420.06 1244.10) scale(1.085 1)" text-anchor="middle">20</text>
<text transform="translate(516.44 1244.10) scale(1.085 1)" text-anchor="middle">30</text>
<text transform="translate(612.82 1244.10) scale(1.085 1)" text-anchor="middle">40</text>
<text transform="translate(74.90 1182.61) scale(1.085 1)" text-anchor="end">-10</text>
<text transform="translate(74.90 1100.05) scale(1.085 1)" text-anchor="end">0</text>
<text transform="translate(74.90 1017.49) scale(1.085 1)" text-anchor="end">10</text>
<text transform="translate(74.90 934.93) scale(1.085 1)" text-anchor="end">20</text>
<text transform="translate(74.90 852.37) scale(1.085 1)" text-anchor="end">30</text>
<text transform="translate(74.90 769.81) scale(1.085 1)" text-anchor="end">40</text>
</g>
<rect x="102.3" y="46.4" width="365.8" height="79.1" fill="#fff" stroke="#3a3a3a" stroke-width="1"/>
<path d="M128.2 58.3L134.0 63.9M128.2 63.9L134.0 58.3" stroke="#dc1c1c" stroke-width="1.3" fill="none"/>
<line x1="107.5" y1="86.0" x2="155.3" y2="86.0" stroke="#000" stroke-width="2.4"/>
<line x1="107.5" y1="110.7" x2="152" y2="110.7" stroke="#000" stroke-width="0.8" stroke-dasharray="1 2.2"/>
<text x="159.11" y="66.40" font-family="'Liberation Serif', 'Times New Roman', serif" font-weight="normal" font-size="21" fill="#000" textLength="304.35" lengthAdjust="spacingAndGlyphs" xml:space="preserve">ants=10, inputs=5, R=0.99619</text>
<text x="159.10" y="91.30" font-family="'Liberation Serif', 'Times New Roman', serif" font-weight="normal" font-size="21" fill="#000" textLength="28.24" lengthAdjust="spacingAndGlyphs" xml:space="preserve">Fit</text>
<text x="160.08" y="116.40" font-family="'Liberation Serif', 'Times New Roman', serif" font-weight="normal" font-size="21" fill="#000" textLength="63.57" lengthAdjust="spacingAndGlyphs" xml:space="preserve">Y = T</text>
<rect x="95.8" y="718.8" width="365.8" height="74.2" fill="#fff" stroke="#3a3a3a" stroke-width="1"/>
<path d="M121.4 729.9L127.6 735.1M121.4 735.1L127.6 729.9" stroke="#dc1c1c" stroke-width="1.3" fill="none"/>
<line x1="101.1" y1="755.5" x2="148.5" y2="755.5" stroke="#000" stroke-width="2.4"/>
<line x1="101.1" y1="779.5" x2="146" y2="779.5" stroke="#000" stroke-width="0.8" stroke-dasharray="1 2.2"/>
<text x="152.29" y="737.60" font-family="'Liberation Serif', 'Times New Roman', serif" font-weight="normal" font-size="20.5" fill="#000" textLength="303.78" lengthAdjust="spacingAndGlyphs" xml:space="preserve">ants=10, inputs=5, R=0.99261</text>
<text x="152.68" y="760.60" font-family="'Liberation Serif', 'Times New Roman', serif" font-weight="normal" font-size="20.5" fill="#000" textLength="28.18" lengthAdjust="spacingAndGlyphs" xml:space="preserve">Fit</text>
<text x="153.67" y="784.00" font-family="'Liberation Serif', 'Times New Roman', serif" font-weight="normal" font-size="20.5" fill="#000" textLength="63.38" lengthAdjust="spacingAndGlyphs" xml:space="preserve">Y = T</text>
<text x="302.49" y="19.70" font-family="'Liberation Serif', 'Times New Roman', serif" font-weight="normal" font-size="25.3" fill="#000" textLength="166.34" lengthAdjust="spacingAndGlyphs" xml:space="preserve">Training data</text>
<text x="303.28" y="693.30" font-family="'Liberation Serif', 'Times New Roman', serif" font-weight="normal" font-size="24.5" fill="#000" textLength="152.60" lengthAdjust="spacingAndGlyphs" xml:space="preserve">Testing data</text>
<text x="348.50" y="636.00" font-family="'Liberation Serif', 'Times New Roman', serif" font-weight="normal" font-size="25" fill="#000" textLength="74.75" lengthAdjust="spacingAndGlyphs" xml:space="preserve">Target</text>
<text x="340.79" y="1271.10" font-family="'Liberation Serif', 'Times New Roman', serif" font-weight="normal" font-size="24.3" fill="#000" textLength="75.83" lengthAdjust="spacingAndGlyphs" xml:space="preserve">Target</text>
<text transform="translate(38.20 0) rotate(-90)" x="-476.33" y="0" font-family="'Liberation Serif', 'Times New Roman', serif" font-size="28.5" fill="#000" textLength="81.81" lengthAdjust="spacingAndGlyphs" xml:space="preserve">Output</text>
<text transform="translate(38.20 0) rotate(-90)" x="-376.92" y="0" font-family="'Liberation Serif', 'Times New Roman', serif" font-size="28.5" fill="#000" textLength="20.84" lengthAdjust="spacingAndGlyphs" xml:space="preserve">=</text>
<text transform="translate(38.20 0) rotate(-90)" x="-347.26" y="0" font-family="'Liberation Serif', 'Times New Roman', serif" font-size="28.5" fill="#000" textLength="130.16" lengthAdjust="spacingAndGlyphs" xml:space="preserve">0.99*Target</text>
<text transform="translate(38.20 0) rotate(-90)" x="-206.56" y="0" font-family="'Liberation Serif', 'Times New Roman', serif" font-size="28.5" fill="#000" textLength="20.13" lengthAdjust="spacingAndGlyphs" xml:space="preserve">+</text>
<text transform="translate(38.20 0) rotate(-90)" x="-177.81" y="0" font-family="'Liberation Serif', 'Times New Roman', serif" font-size="28.5" fill="#000" textLength="45.44" lengthAdjust="spacingAndGlyphs" xml:space="preserve">0.03</text>
<text transform="translate(23.20 0) rotate(-90)" x="-1127.57" y="0" font-family="'Liberation Serif', 'Times New Roman', serif" font-size="28.5" fill="#000" textLength="76.43" lengthAdjust="spacingAndGlyphs" xml:space="preserve">Output</text>
<text transform="translate(23.20 0) rotate(-90)" x="-1034.47" y="0" font-family="'Liberation Serif', 'Times New Roman', serif" font-size="28.5" fill="#000" textLength="18.94" lengthAdjust="spacingAndGlyphs" xml:space="preserve">=</text>
<text transform="translate(23.20 0) rotate(-90)" x="-1007.61" y="0" font-family="'Liberation Serif', 'Times New Roman', serif" font-size="28.5" fill="#000" textLength="124.41" lengthAdjust="spacingAndGlyphs" xml:space="preserve">0.99*Target</text>
<text transform="translate(23.20 0) rotate(-90)" x="-875.24" y="0" font-family="'Liberation Serif', 'Times New Roman', serif" font-size="28.5" fill="#000" textLength="19.77" lengthAdjust="spacingAndGlyphs" xml:space="preserve">+</text>
<text transform="translate(23.20 0) rotate(-90)" x="-846.63" y="0" font-family="'Liberation Serif', 'Times New Roman', serif" font-size="28.5" fill="#000" textLength="52.94" lengthAdjust="spacingAndGlyphs" xml:space="preserve">0.057</text>
<text x="13.81" y="39.10" font-family="'Liberation Serif', 'Times New Roman', serif" font-weight="bold" font-size="34" fill="#000" textLength="16.78" lengthAdjust="spacingAndGlyphs" xml:space="preserve">a</text>
<text x="14.46" y="709.30" font-family="'Liberation Serif', 'Times New Roman', serif" font-weight="bold" font-size="34" fill="#000" textLength="18.21" lengthAdjust="spacingAndGlyphs" xml:space="preserve">b</text>
</svg>
</body></html>
